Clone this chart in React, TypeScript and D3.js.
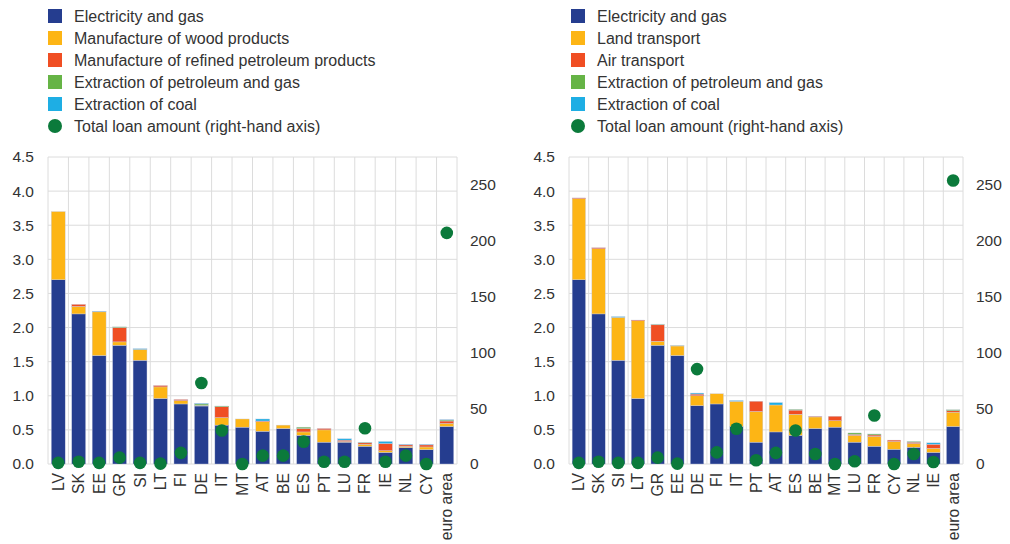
import React from "react";
import * as d3 from "d3";

const cats1 = ["LV","SK","EE","GR","SI","LT","FI","DE","IT","MT","AT","BE","ES","PT","LU","FR","IE","NL","CY","euro area"];
const elec1 = [2.70,2.20,1.59,1.74,1.52,0.96,0.88,0.85,0.57,0.54,0.48,0.52,0.42,0.32,0.32,0.26,0.17,0.24,0.21,0.55];
const wood1 = [1.00,0.11,0.64,0.05,0.16,0.17,0.05,0.01,0.11,0.12,0.14,0.05,0.05,0.18,0.01,0.03,0.025,0.02,0.04,0.045];
const refined1 = [0.00,0.03,0.005,0.21,0.00,0.02,0.015,0.00,0.16,0.00,0.01,0.00,0.05,0.02,0.02,0.02,0.105,0.02,0.03,0.035];
const petro1 = [0,0,0,0.01,0,0,0,0.02,0.01,0,0,0,0.02,0,0,0.01,0,0,0,0.015];
const coal1 = [0,0,0.005,0,0.01,0,0,0.01,0,0,0.03,0,0,0,0.02,0,0.03,0.01,0.01,0.005];
const loans1 = [1,2,1,5.7,1,0.3,10,72.5,30,0,7.5,7.5,20,2,2,32,2,7.5,0,207];

const cats2 = ["LV","SK","SI","LT","GR","EE","DE","FI","IT","PT","AT","ES","BE","MT","LU","FR","CY","NL","IE","euro area"];
const elec2 = [2.70,2.20,1.52,0.96,1.74,1.59,0.855,0.88,0.55,0.32,0.47,0.42,0.52,0.54,0.32,0.26,0.215,0.245,0.17,0.55];
const land2 = [1.19,0.955,0.63,1.14,0.06,0.14,0.145,0.15,0.37,0.45,0.395,0.31,0.17,0.095,0.10,0.145,0.115,0.055,0.06,0.21];
const air2 = [0.01,0.015,0,0.01,0.24,0,0.025,0,0,0.15,0,0.06,0.01,0.065,0.015,0.02,0.02,0.02,0.06,0.02];
const petro2 = [0,0,0,0,0.01,0.005,0,0,0,0,0,0.01,0,0,0.02,0.015,0,0.01,0,0.015];
const coal2 = [0,0,0.01,0,0,0,0.015,0,0.01,0,0.035,0,0,0,0,0,0,0,0.02,0];
const loans2 = [1,2,1,1,5.7,0.3,85,10.4,31.6,3.3,10,30,9,0,2.4,43.5,0,9,1.8,254];

const legend1 = ["Electricity and gas","Manufacture of wood products","Manufacture of refined petroleum products","Extraction of petroleum and gas","Extraction of coal"];
const legend2 = ["Electricity and gas","Land transport","Air transport","Extraction of petroleum and gas","Extraction of coal"];
const dotLabel = "Total loan amount (right-hand axis)";

const leftTicks = [0,0.5,1,1.5,2,2.5,3,3.5,4,4.5];
const rightTicks = [0,50,100,150,200,250];

const colors = ["#253d8f","#fdb515","#f04e23","#66b446","#1eaee4"];
const dotColor = "#0b7a3b";
const gridColor = "#dcdcdc";
const font = "'Liberation Sans', Arial, sans-serif";
const textColor = "#333";

type PanelProps = {
  x0: number; x1: number; cats: string[]; series: number[][]; loans: number[]; legend: string[]; legendX: number;
};

function Panel({ x0, x1, cats, series, loans, legend, legendX }: PanelProps) {
  const yTop = 157, yBot = 464;
  const x = d3.scaleBand().domain(cats).range([x0, x1]).paddingInner(0.32).paddingOuter(0.16);
  const y = d3.scaleLinear().domain([0, 4.5]).range([yBot, yTop]);
  const y2 = d3.scaleLinear().domain([0, 275]).range([yBot, yTop]);
  const step = x.step();
  const rows = cats.map((c, i) => {
    const r: any = { cat: c };
    series.forEach((s, k) => (r["s" + k] = s[i]));
    return r;
  });
  const stack = d3.stack().keys(series.map((_, k) => "s" + k))(rows);
  return (
    <g>
      {legend.map((t, i) => (
        <g key={t}>
          <rect x={legendX} y={9 + i * 22} width={14} height={14} fill={colors[i]} />
          <text x={legendX + 26} y={16 + i * 22} dy="0.35em" fontSize={16} fill={textColor}>{t}</text>
        </g>
      ))}
      <circle cx={legendX + 7} cy={16 + 5 * 22} r={7} fill={dotColor} />
      <text x={legendX + 26} y={16 + 5 * 22} dy="0.35em" fontSize={16} fill={textColor}>{dotLabel}</text>

      {leftTicks.map((t) => (
        <line key={"h" + t} x1={x0} x2={x1} y1={y(t)} y2={y(t)} stroke={gridColor} strokeWidth={1} />
      ))}
      {d3.range(cats.length + 1).map((i) => (
        <line key={"v" + i} x1={x0 + i * step} x2={x0 + i * step} y1={yTop} y2={yBot} stroke={gridColor} strokeWidth={1} />
      ))}

      {stack.map((layer, k) => (
        <g key={"l" + k} fill={colors[k]}>
          {layer.map((d, i) => {
            const h = y(d[0]) - y(d[1]);
            if (h <= 0) return null;
            return <rect key={i} x={x(cats[i])} y={y(d[1])} width={x.bandwidth()} height={h} stroke="#c9cde0" strokeWidth={0.4} />;
          })}
        </g>
      ))}

      {loans.map((v, i) => (
        <circle key={"d" + i} cx={(x(cats[i]) as number) + x.bandwidth() / 2} cy={y2(v)} r={6.3} fill={dotColor} />
      ))}

      {leftTicks.map((t) => (
        <text key={"lt" + t} x={x0 - 14} y={y(t)} dy="0.35em" textAnchor="end" fontSize={15.5} fill={textColor}>{t.toFixed(1)}</text>
      ))}
      {rightTicks.map((t) => (
        <text key={"rt" + t} x={x1 + 13} y={y2(t)} dy="0.35em" textAnchor="start" fontSize={15.5} fill={textColor}>{t}</text>
      ))}
      {cats.map((c) => {
        const cx = (x(c) as number) + x.bandwidth() / 2;
        return (
          <text key={"c" + c} transform={`translate(${cx},${473}) rotate(-90)`} dy="0.35em" textAnchor="end" fontSize={15.7} fill={textColor}>{c}</text>
        );
      })}
    </g>
  );
}

export default function App() {
  return (
    <svg width={1010} height={544} style={{ position: "absolute", left: 0, top: 0, fontFamily: font, background: "#fff" }}>
      <rect width={1010} height={544} fill="#fff" />
      <Panel x0={48} x1={457} cats={cats1} series={[elec1, wood1, refined1, petro1, coal1]} loans={loans1} legend={legend1} legendX={48} />
      <Panel x0={569} x1={963} cats={cats2} series={[elec2, land2, air2, petro2, coal2]} loans={loans2} legend={legend2} legendX={571} />
    </svg>
  );
}
